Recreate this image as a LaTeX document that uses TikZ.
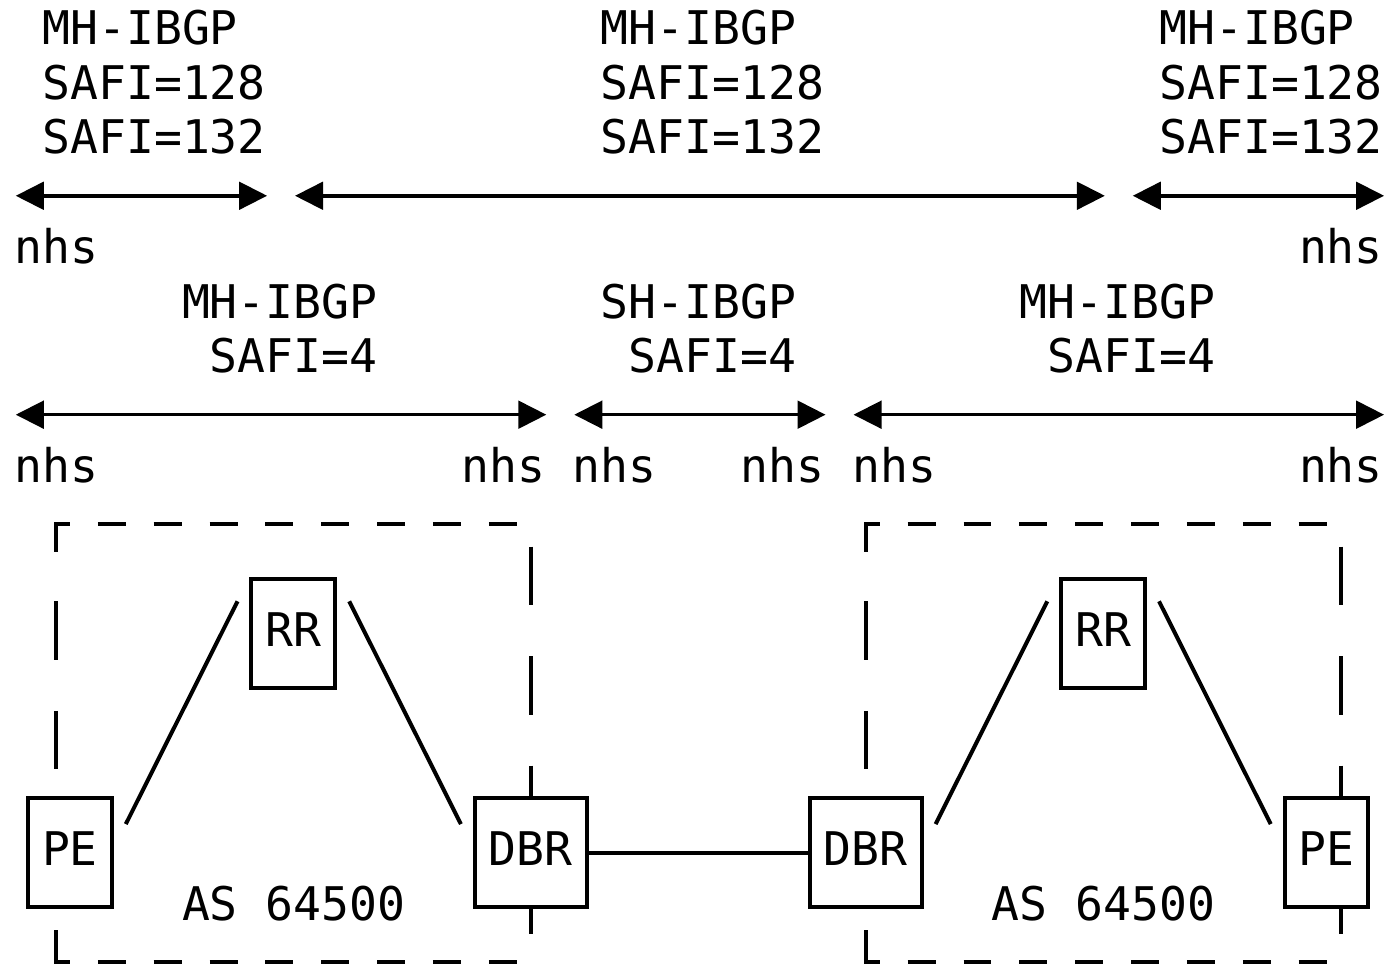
\documentclass[tikz,border=0pt]{standalone}
\usepackage{fontspec}
\usetikzlibrary{arrows.meta}
\newfontfamily\asciimono{DejaVu Sans Mono}
\tikzset{
  txt/.style={anchor=base west,inner sep=0pt,font=\asciimono\fontsize{26.4pt}{31pt}\selectfont},
  router/.style={draw,line width=0.08cm,inner sep=0pt,outer sep=0pt,minimum width=1.676cm,minimum height=2.189cm,
    text height=0.68cm,text depth=0.165cm,font=\asciimono\fontsize{26.4pt}{31pt}\selectfont},
  wide/.style={minimum width=2.234cm},
  span/.style={{Triangle[length=0.56cm,width=0.55cm]}-{Triangle[length=0.56cm,width=0.55cm]},line width=0.07cm},
  wire/.style={line width=0.08cm},
}
\begin{document}
\begin{tikzpicture}[x=0.5585cm,y=-1.0946cm]
  \useasboundingbox (-0.505,-0.577) rectangle (49.164,17.073);
  \foreach \x in {1,21,41}{
    \node[txt] (mh\x) at (\x,0.235) {MH-IBGP};
    \node[txt] (sa\x) at (\x,1.235) {SAFI=128};
    \node[txt] (sb\x) at (\x,2.235) {SAFI=132};
  }
  \node[txt] (mhA) at (6,5.235) {MH-IBGP};
  \node[txt] (sh) at (21,5.235) {SH-IBGP};
  \node[txt] (mhB) at (36,5.235) {MH-IBGP};
  \foreach \x in {7,22,37} \node[txt] (safi\x) at (\x,6.235) {SAFI=4};
  \foreach \x/\r in {0/4,46/4,0/8,16/8,20/8,26/8,30/8,46/8} \node[txt] (nhs\x-\r) at (\x,\r+0.235) {nhs};
  \foreach \a/\b/\r in {0/9/3,10/39/3,40/49/3,0/19/7,20/29/7,30/49/7}{
    \coordinate (s\a-\r) at (\a+0.06,\r);
    \coordinate (e\a-\r) at (\b+0.06,\r);
    \draw[span] (s\a-\r) -- (e\a-\r);
  }
  \foreach \L/\R in {1/18,30/47}{
    \draw[wire] (\L+1,9) -- (\L+0.5,9) -- (\L+0.5,9.5);
    \draw[wire] (\L+1,17) -- (\L+0.5,17) -- (\L+0.5,16.41);
    \foreach \x in {2,4,...,16}{
      \draw[wire] (\L+\x,9) -- (\L+\x+1,9);
      \draw[wire] (\L+\x,17) -- (\L+\x+1,17);
    }
    \foreach \y in {11,13} \draw[wire] (\L+0.5,\y-0.59) -- (\L+0.5,\y+0.48);
    \foreach \y in {10,12} \draw[wire] (\R+0.5,\y-0.59) -- (\R+0.5,\y+0.48);
    \draw[wire] (\R+0.5,13.41) -- (\R+0.5,14);
    \draw[wire] (\R+0.5,16) -- (\R+0.5,16.48);
  }
  \node[router] (peA) at (2,15) {PE};
  \node[router] (rrA) at (10,11) {RR};
  \node[router,wide] (dbrA) at (18.5,15) {DBR};
  \node[router,wide] (dbrB) at (30.5,15) {DBR};
  \node[router] (rrB) at (39,11) {RR};
  \node[router] (peB) at (47,15) {PE};
  \node[txt] (asA) at (6,16.235) {AS 64500};
  \node[txt] (asB) at (35,16.235) {AS 64500};
  \draw[wire] (dbrA) -- (dbrB);
  \foreach \p/\q in {peA/rrA,dbrB/rrB}
    \draw[wire] ([shift={(0.5,0.48)}]\p.north east) -- ([shift={(-0.5,0.41)}]\q.north west);
  \foreach \p/\q in {rrA/dbrA,rrB/peB}
    \draw[wire] ([shift={(0.5,0.41)}]\p.north east) -- ([shift={(-0.5,0.48)}]\q.north west);
\end{tikzpicture}
\end{document}
